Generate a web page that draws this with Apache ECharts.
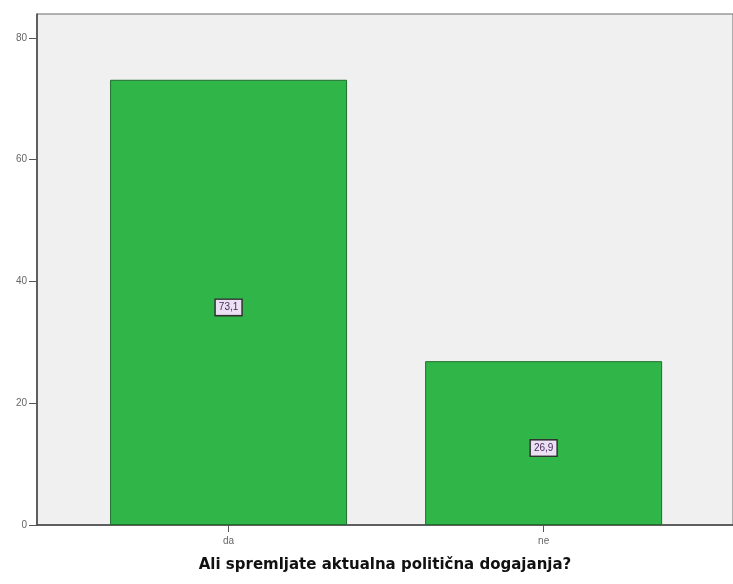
<!DOCTYPE html>
<html><head><meta charset="utf-8">
<script src="https://cdn.jsdelivr.net/npm/echarts@6/dist/echarts.min.js"></script>
<style>html,body{margin:0;padding:0;background:#fff}#c{width:733px;height:584px}</style>
</head><body><div id="c"></div>
<script>
const categories = ["da", "ne"];
const values = [73.1, 26.9];
const yTicks = [0, 20, 40, 60, 80];
const axisTitle = "Ali spremljate aktualna politična dogajanja?";

const chart = echarts.init(document.getElementById('c'), null, {renderer: 'canvas'});
const pos = categories.map((c, i) => i);
chart.setOption({
  animation: false,
  grid: {left: 37, right: -2, top: 14, bottom: 59, show: true, backgroundColor: '#f0f0f0', borderColor: '#6a6a6a', borderWidth: 1},
  xAxis: {
    type: 'value', min: -0.608, max: 1.601,
    splitLine: {show: false},
    axisLine: {show: true, onZero: false, lineStyle: {color: '#444', width: 1.5}},
    axisTick: {show: true, customValues: pos, length: 7, lineStyle: {color: '#555'}},
    axisLabel: {customValues: pos, formatter: v => categories[Math.round(v)], color: '#666', fontSize: 10, fontFamily: 'Liberation Sans', margin: 11},
    name: axisTitle, nameLocation: 'middle', nameGap: 33,
    nameTextStyle: {fontFamily: 'DejaVu Sans', fontWeight: 'bold', fontSize: 15, color: '#111'}
  },
  yAxis: {
    type: 'value', min: 0, max: 83.9,
    splitLine: {show: false},
    axisLine: {show: true, onZero: false, lineStyle: {color: '#444', width: 1.5}},
    axisTick: {show: true, customValues: yTicks, length: 8, lineStyle: {color: '#555'}},
    axisLabel: {customValues: yTicks, color: '#666', fontSize: 10, fontFamily: 'Liberation Sans', margin: 10}
  },
  series: [{
    type: 'bar',
    data: values.map((v, i) => [pos[i], v]),
    barWidth: 237,
    itemStyle: {color: '#2fb548', borderColor: '#1e6e2c', borderWidth: 1},
    label: {
      show: true, position: 'inside',
      formatter: p => String(p.value[1]).replace('.', ','),
      color: '#4a2a5a', fontSize: 10, fontFamily: 'Liberation Sans',
      backgroundColor: '#ece0f4', borderColor: '#333', borderWidth: 1.5, padding: [3, 3, 2, 3], offset: [0, 5]
    }
  }]
});
</script></body></html>
